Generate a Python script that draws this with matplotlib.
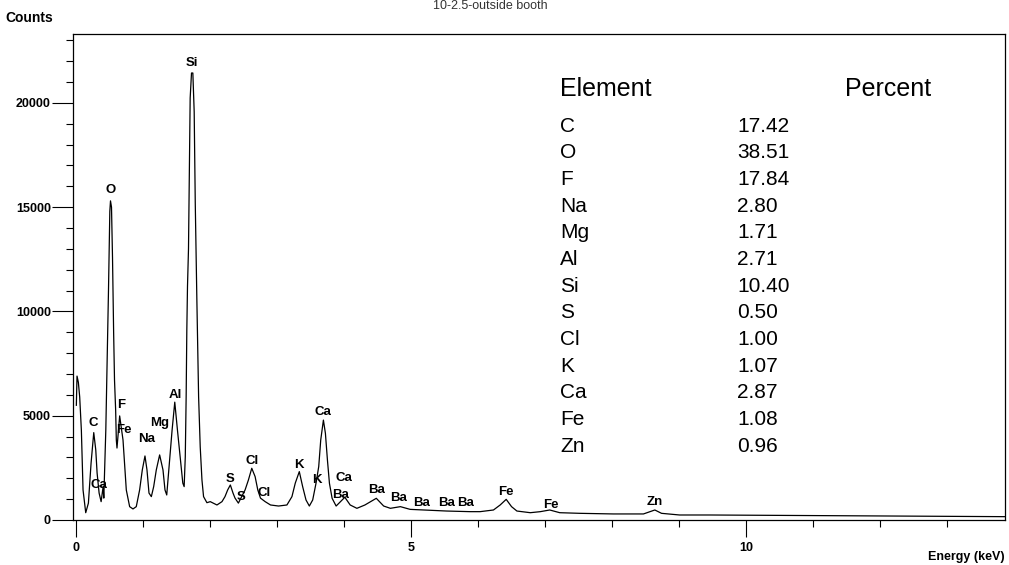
import numpy as np
import matplotlib.pyplot as plt
from matplotlib.ticker import MultipleLocator

# spectrum (energy in keV, counts)
energy_kev = [0.00, 0.01, 0.03, 0.05, 0.075, 0.10, 0.14, 0.18, 0.20, 0.22,
              0.26, 0.29, 0.31, 0.34, 0.37, 0.40, 0.41, 0.44, 0.46, 0.48,
              0.50, 0.51, 0.525, 0.54, 0.557, 0.57, 0.587, 0.597, 0.607, 0.647,
              0.67, 0.697, 0.72, 0.746, 0.796, 0.846, 0.895, 0.945, 0.985, 1.025,
              1.055, 1.085, 1.12, 1.155, 1.194, 1.244, 1.294, 1.324, 1.35, 1.39,
              1.43, 1.47, 1.51, 1.55, 1.59, 1.61, 1.627, 1.64, 1.65, 1.66,
              1.675, 1.686, 1.70, 1.72, 1.74, 1.76, 1.776, 1.80, 1.826, 1.85,
              1.876, 1.90, 1.95, 2.00, 2.10, 2.175, 2.22, 2.26, 2.30, 2.34,
              2.37, 2.42, 2.47, 2.52, 2.57, 2.62, 2.67, 2.71, 2.75, 2.82,
              2.90, 3.02, 3.145, 3.22, 3.27, 3.33, 3.38, 3.43, 3.48, 3.53,
              3.58, 3.62, 3.65, 3.69, 3.72, 3.75, 3.78, 3.82, 3.88, 3.97,
              4.01, 4.09, 4.19, 4.31, 4.48, 4.59, 4.69, 4.84, 4.985, 5.18,
              5.53, 5.88, 6.03, 6.23, 6.33, 6.42, 6.50, 6.58, 6.78, 6.93,
              7.07, 7.22, 7.52, 8.02, 8.47, 8.57, 8.64, 8.74, 9.01, 9.46,
              10.5, 11.5, 12.5, 13.87]
counts = [5500, 6900, 6600, 5900, 4300, 1440, 350, 810, 1770, 2730,
          4190, 3360, 2250, 1290, 880, 1600, 1050, 4310, 7530, 11000,
          14800, 15300, 15000, 12600, 8960, 6710, 5270, 3835, 3450, 4990,
          4470, 3835, 2730, 1440, 640, 530, 640, 1440, 2400, 3070,
          2400, 1290, 1120, 1600, 2400, 3120, 2400, 1440, 1200, 2730,
          4310, 5650, 4310, 3030, 1770, 1600, 3030, 5910, 9100, 11200,
          13000, 16150, 20230, 21430, 21430, 19570, 15200, 10550, 5910, 3510,
          1920, 1120, 830, 880, 720, 880, 1120, 1440, 1680, 1290,
          1050, 810, 1120, 1440, 1920, 2480, 2080, 1440, 1050, 880,
          720, 670, 720, 1120, 1770, 2320, 1600, 960, 670, 960,
          1770, 2560, 3835, 4790, 4150, 2880, 1760, 1040, 670, 960,
          1090, 720, 560, 720, 1040, 670, 560, 640, 510, 480,
          430, 400, 400, 480, 720, 990, 640, 430, 350, 400,
          480, 350, 320, 290, 290, 400, 480, 320, 240, 240,
          220, 200, 180, 160]

peak_names = ["Si", "O", "C", "Ca", "F", "Fe", "Na", "Mg", "Al", "S", "S", "Cl", "Cl",
              "K", "K", "Ca", "Ca", "Ba", "Ba", "Ba", "Ba", "Ba", "Ba", "Fe", "Fe", "Zn"]
peak_energy = [1.73, 0.507, 0.254, 0.333, 0.667, 0.706, 1.045, 1.244, 1.478, 2.30, 2.46, 2.63, 2.81,
               3.32, 3.59, 3.69, 3.99, 3.95, 4.49, 4.81, 5.16, 5.53, 5.81, 6.42, 7.08, 8.64]
peak_counts = [21910, 15820, 4650, 1680, 5510, 4310, 3870, 4660, 5990, 1970, 1120, 2830, 1280,
               2640, 1920, 5160, 2030, 1200, 1440, 1040, 800, 800, 800, 1360, 720, 880]

elements = ["C", "O", "F", "Na", "Mg", "Al", "Si", "S", "Cl", "K", "Ca", "Fe", "Zn"]
percents = ["17.42", "38.51", "17.84", "2.80", "1.71", "2.71", "10.40",
            "0.50", "1.00", "1.07", "2.87", "1.08", "0.96"]

plt.rcParams["font.family"] = ["Liberation Sans", "DejaVu Sans"]

W, H = 1009, 565
fig = plt.figure(figsize=(W / 100, H / 100), dpi=100)
ax = fig.add_axes([73 / W, 1 - 520 / H, (1005 - 73) / W, (520 - 34) / H])

ax.plot(energy_kev, counts, color="black", lw=0.9)
ax.set_xlim(-0.05, 13.87)
ax.set_ylim(0, 23300)

# tick lengths are in points (px * 0.72 at 100 dpi)
ax.set_xticks([0, 5, 10])
ax.xaxis.set_minor_locator(MultipleLocator(1))
ax.set_yticks([0, 5000, 10000, 15000, 20000])
ax.yaxis.set_minor_locator(MultipleLocator(1000))
ax.tick_params(axis="x", which="major", length=12, width=0.8, pad=4, labelsize=9)
ax.tick_params(axis="x", which="minor", length=5, width=0.8)
ax.tick_params(axis="y", which="major", length=15, width=0.8, pad=1, labelsize=9)
ax.tick_params(axis="y", which="minor", length=5, width=0.8)
plt.setp(ax.get_xticklabels() + ax.get_yticklabels(), fontweight="bold")
for sp in ax.spines.values():
    sp.set_linewidth(0.9)

for name, e, c in zip(peak_names, peak_energy, peak_counts):
    ax.text(e, c, name, ha="center", va="center", fontsize=9.5, fontweight="bold")

fig.text(5 / W, 1 - 18 / H, "Counts", ha="left", va="center", fontsize=10, fontweight="bold")
fig.text(1005 / W, 1 - 557 / H, "Energy (keV)", ha="right", va="center", fontsize=9, fontweight="bold")

# caption at the top edge of the scan
fig.text(490 / W, 1.0, "10-2.5-outside booth", ha="center", va="top", fontsize=9, color="#333333")

# composition table
fig.text(560 / W, 1 - 89 / H, "Element", ha="left", va="center", fontsize=18, fontweight="light")
fig.text(845 / W, 1 - 89 / H, "Percent", ha="left", va="center", fontsize=18, fontweight="light")
for i, (el, pc) in enumerate(zip(elements, percents)):
    y = 1 - (126 + i * 26.67) / H
    fig.text(560 / W, y, el, ha="left", va="center", fontsize=15, fontweight="light")
    fig.text(737 / W, y, pc, ha="left", va="center", fontsize=15, fontweight="light")

fig.savefig("out.png", dpi=100)
